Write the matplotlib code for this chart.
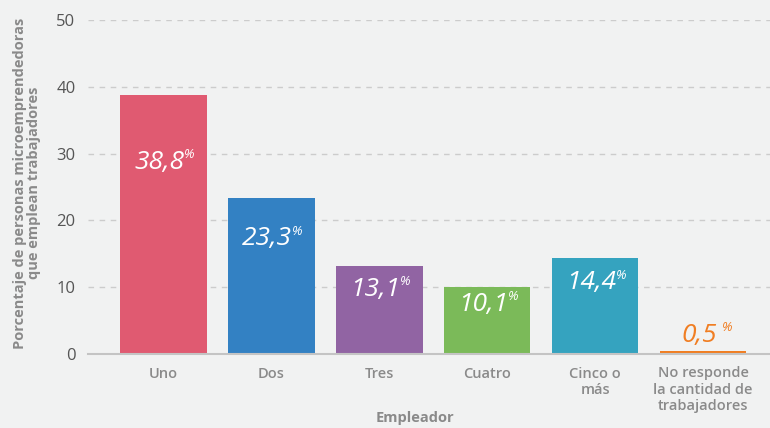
import matplotlib.pyplot as plt

# Microemprendedores que emplean trabajadores, por cantidad de empleados
categorias = ["Uno", "Dos", "Tres", "Cuatro", "Cinco o\nmás",
              "No responde\nla cantidad de\ntrabajadores"]
valores = [38.8, 23.3, 13.1, 10.1, 14.4, 0.5]
etiquetas = ["38,8", "23,3", "13,1", "10,1", "14,4", "0,5"]
colores = ["#e05a71", "#3381c3", "#9164a3", "#7bba59", "#35a3bf", "#f07e23"]

bg = "#f1f2f2"
plt.rcParams['font.family'] = ['Open Sans', 'DejaVu Sans']

fig = plt.figure(figsize=(7.7, 4.28), dpi=100, facecolor=bg)
ax = fig.add_axes([88/770, 1-354/428, 1-88/770, 334/428])
ax.set_facecolor(bg)

x = list(range(len(categorias)))
ax.bar(x, valores, width=0.8, color=colores, zorder=3)

# value labels with small superscript %
for i, (v, lab) in enumerate(zip(valores, etiquetas)):
    if v > 5:
        ypos = v * 0.74
        col = "white"
    else:
        ypos = v + 2.3
        col = colores[i]
    t = ax.text(i - 0.04, ypos, lab, ha='center', va='center', color=col,
                fontsize=19, style='italic', zorder=4)
    ax.annotate("%", xy=(1, 1), xycoords=t, xytext=(0 if v > 5 else 4, 1),
                textcoords='offset points', ha='left', va='top', color=col,
                fontsize=9.5, style='italic', zorder=4)

ax.set_xlim(-0.7, 5.62)
ax.set_ylim(0, 50)
ax.set_yticks([0, 10, 20, 30, 40, 50])
ax.yaxis.grid(True, linestyle=(0, (4, 4)), color="#cccccc", linewidth=1, zorder=0)
ax.set_xticks(x)
ax.set_xticklabels(categorias, fontsize=10.5, color="#8a8a8a", fontweight='semibold',
                   linespacing=1.2)
ax.tick_params(axis='x', length=0, pad=9)
ax.tick_params(axis='y', length=0, pad=9, labelsize=12, labelcolor="#555555")

for s in ["top", "right", "left"]:
    ax.spines[s].set_visible(False)
ax.spines["bottom"].set_color("#c4c4c4")
ax.spines["bottom"].set_linewidth(1.5)
ax.spines["bottom"].set_zorder(5)

fig.text(27/770, 1-183/428, "Porcentaje de personas microemprendedoras\nque emplean trabajadores",
         rotation=90, ha='center', va='center', multialignment='center',
         fontsize=10.5, fontweight='bold', color="#8a8a8a", linespacing=0.95)
fig.text(415/770, 1-418/428, "Empleador", ha='center', va='center',
         fontsize=10.5, fontweight='bold', color="#8a8a8a")

fig.savefig("out.png", dpi=100, facecolor=bg)
